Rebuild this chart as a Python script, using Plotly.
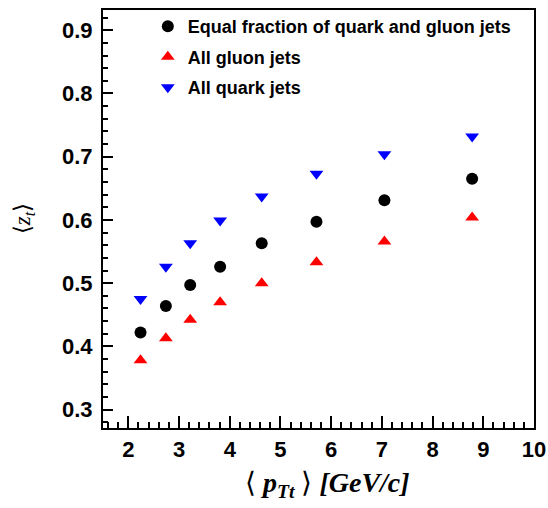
import plotly.graph_objects as go

# Data
pt = [2.24, 2.74, 3.22, 3.81, 4.63, 5.71, 7.05, 8.78]
z_equal = [0.422, 0.464, 0.497, 0.526, 0.563, 0.597, 0.631, 0.665]
z_gluon = [0.378, 0.413, 0.442, 0.470, 0.500, 0.533, 0.566, 0.604]
z_quark = [0.475, 0.526, 0.563, 0.599, 0.637, 0.673, 0.704, 0.732]
names = ["Equal fraction of quark and gluon jets", "All gluon jets", "All quark jets"]

fig = go.Figure()
fig.add_trace(go.Scatter(x=pt, y=z_equal, mode="markers", name=names[0], legendgroup="a",
                         marker=dict(symbol="circle", size=12, color="black")))
fig.add_trace(go.Scatter(x=pt, y=z_gluon, mode="markers", name=names[1], legendgroup="b",
                         marker=dict(symbol="triangle-up", size=12, color="#ff0000")))
fig.add_trace(go.Scatter(x=pt, y=z_quark, mode="markers", name=names[2], legendgroup="c",
                         marker=dict(symbol="triangle-down", size=12, color="#0000ff")))

axis_common = dict(showline=True, linecolor="black", linewidth=2, mirror=True,
                   showgrid=False, zeroline=False, ticks="inside", tickcolor="black",
                   tickwidth=2, ticklabeloverflow="allow",
                   tickfont=dict(family="Liberation Sans", size=22, color="black", weight="bold"))

fig.update_xaxes(range=[1.5, 10], tick0=2, dtick=1, ticklen=12,
                 minor=dict(ticks="inside", dtick=0.2, tick0=2, ticklen=6, tickcolor="black", tickwidth=2),
                 ticklabelstandoff=1, **axis_common)
fig.update_yaxes(range=[0.271, 0.932], tick0=0.3, dtick=0.1, ticklen=10, tickformat=".1f",
                 minor=dict(ticks="inside", dtick=0.02, tick0=0.3, ticklen=5, tickcolor="black", tickwidth=2),
                 ticklabelstandoff=4, **axis_common)

fig.update_layout(
    width=548, height=508,
    margin=dict(l=103, r=14, t=10, b=80, autoexpand=False),
    paper_bgcolor="white", plot_bgcolor="white",
    showlegend=True,
    legend=dict(x=0.104, y=0.984, xref="paper", yref="container", xanchor="left", yanchor="top",
                bgcolor="rgba(0,0,0,0)", borderwidth=0, tracegroupgap=4,
                font=dict(family="Liberation Sans", size=18, color="black", weight="bold")),
    annotations=[
        dict(text="⟨ <b><i>p</i></b><sub><b><i>Tt</i></b></sub> ⟩ <b><i>[GeV/c]</i></b>",
             xref="paper", yref="paper", x=0.52, y=-0.136, xanchor="center", yanchor="middle",
             showarrow=False, font=dict(family="Liberation Serif", size=28, color="black")),
        dict(text="⟨<i>z</i><sub><i>t</i></sub>⟩",
             xref="paper", yref="paper", x=-0.183, y=0.5, xanchor="center", yanchor="middle",
             textangle=-90, showarrow=False,
             font=dict(family="Liberation Serif", size=23, color="black")),
    ],
)

fig.write_html("out.html", config={"displayModeBar": False},
               post_script="document.body.style.margin='0';document.body.style.overflow='hidden';")
